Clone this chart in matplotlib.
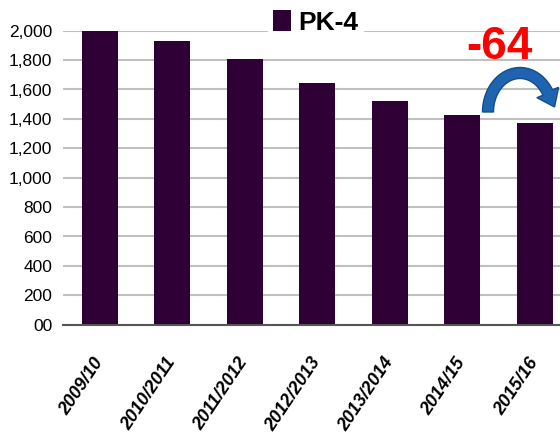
import matplotlib
matplotlib.use("Agg")
import numpy as np
import matplotlib.pyplot as plt
from matplotlib.ticker import FuncFormatter, MultipleLocator
from matplotlib.patches import Polygon

categories = ["2009/10", "2010/2011", "2011/2012", "2012/2013", "2013/2014", "2014/15", "2015/16"]
values = [2000, 1930, 1807, 1644, 1522, 1426, 1372]
series_name = "PK-4"
change_label = "-64"

W, H = 560, 436
AX_L, AX_R, AX_B, AX_T = 63.4, 570.9, 324.7, 30.7
fig = plt.figure(figsize=(W / 100, H / 100), dpi=100)
ax = fig.add_axes([AX_L / W, 1 - AX_B / H, (AX_R - AX_L) / W, (AX_B - AX_T) / H])

bar_color = "#2F0036"
x = list(range(len(categories)))
bars = ax.bar(x, values, width=0.5, color=bar_color, zorder=3, label=series_name)

ax.set_xlim(-0.5, len(categories) - 0.5)
ax.set_ylim(0, 2000)
ax.yaxis.set_major_locator(MultipleLocator(200))
ax.yaxis.set_major_formatter(FuncFormatter(lambda v, p: "00" if v == 0 else f"{v:,.0f}"))
ax.grid(axis="y", color="#C0C0C0", linewidth=1.5, zorder=0)
ax.set_axisbelow(True)
for s in ["top", "right", "left"]:
    ax.spines[s].set_visible(False)
ax.spines["bottom"].set_color("#555555")
ax.spines["bottom"].set_linewidth(1.5)
ax.spines["bottom"].set_zorder(4)

sans = ["Liberation Sans", "DejaVu Sans"]
ax.tick_params(axis="y", length=0, pad=8, labelsize=12.5)
for t in ax.get_yticklabels():
    t.set_family(sans)

ax.set_xticks(x)
ax.set_xticklabels(categories, rotation=56, ha="right", va="center",
                   rotation_mode="anchor", fontsize=13, fontweight="bold",
                   fontstyle="italic", family=sans)
ax.tick_params(axis="x", length=0, pad=25)

leg = fig.legend(handles=[bars], labels=[series_name], loc="center",
                 bbox_to_anchor=(316 / W, 1 - 22.5 / H), frameon=True,
                 handlelength=0.65, handleheight=0.8, handletextpad=0.3,
                 borderpad=0.2, borderaxespad=0,
                 prop={"family": sans, "weight": "bold", "size": 19})
leg.get_frame().set_facecolor("white")
leg.get_frame().set_edgecolor("none")
leg.get_frame().set_alpha(1)

ax.text(5.52, 1890, change_label, color="#FF0000", fontsize=33, fontweight="bold",
        family=sans, ha="center", va="center", zorder=6)

# curved arrow annotation (pixel geometry -> data coords)
px_per_x = (AX_R - AX_L) / len(categories)
px_per_y = (AX_B - AX_T) / 2000.0
def to_data(px, py):
    return ((np.asarray(px) - AX_L) / px_per_x - 0.5, (AX_B - np.asarray(py)) / px_per_y)

cx, cy, rx, ry, th = 520.0, 112.0, 32.0, 39.0, 11.0
ang = np.radians(np.linspace(180, 30, 40))
outer = (cx + (rx + th / 2) * np.cos(ang), cy - (ry + th / 2) * np.sin(ang))
inner = (cx + (rx - th / 2) * np.cos(ang), cy - (ry - th / 2) * np.sin(ang))
a = ang[-1]
tang = np.array([rx * np.sin(a), ry * np.cos(a)])
tang /= np.linalg.norm(tang)
norm = np.array([tang[1], -tang[0]])
end = np.array([cx + rx * np.cos(a), cy - ry * np.sin(a)])
tip = end + 16 * tang
hb_out = end + 12 * norm
hb_in = end - 12 * norm
px = np.concatenate([outer[0], [hb_out[0], tip[0], hb_in[0]], inner[0][::-1]])
py = np.concatenate([outer[1], [hb_out[1], tip[1], hb_in[1]], inner[1][::-1]])
dx, dy = to_data(px, py)
ax.add_patch(Polygon(np.column_stack([dx, dy]), closed=True, facecolor="#1F64B0",
                     edgecolor="#174C88", linewidth=1, zorder=6, clip_on=False))

fig.savefig("out.png", dpi=100)
